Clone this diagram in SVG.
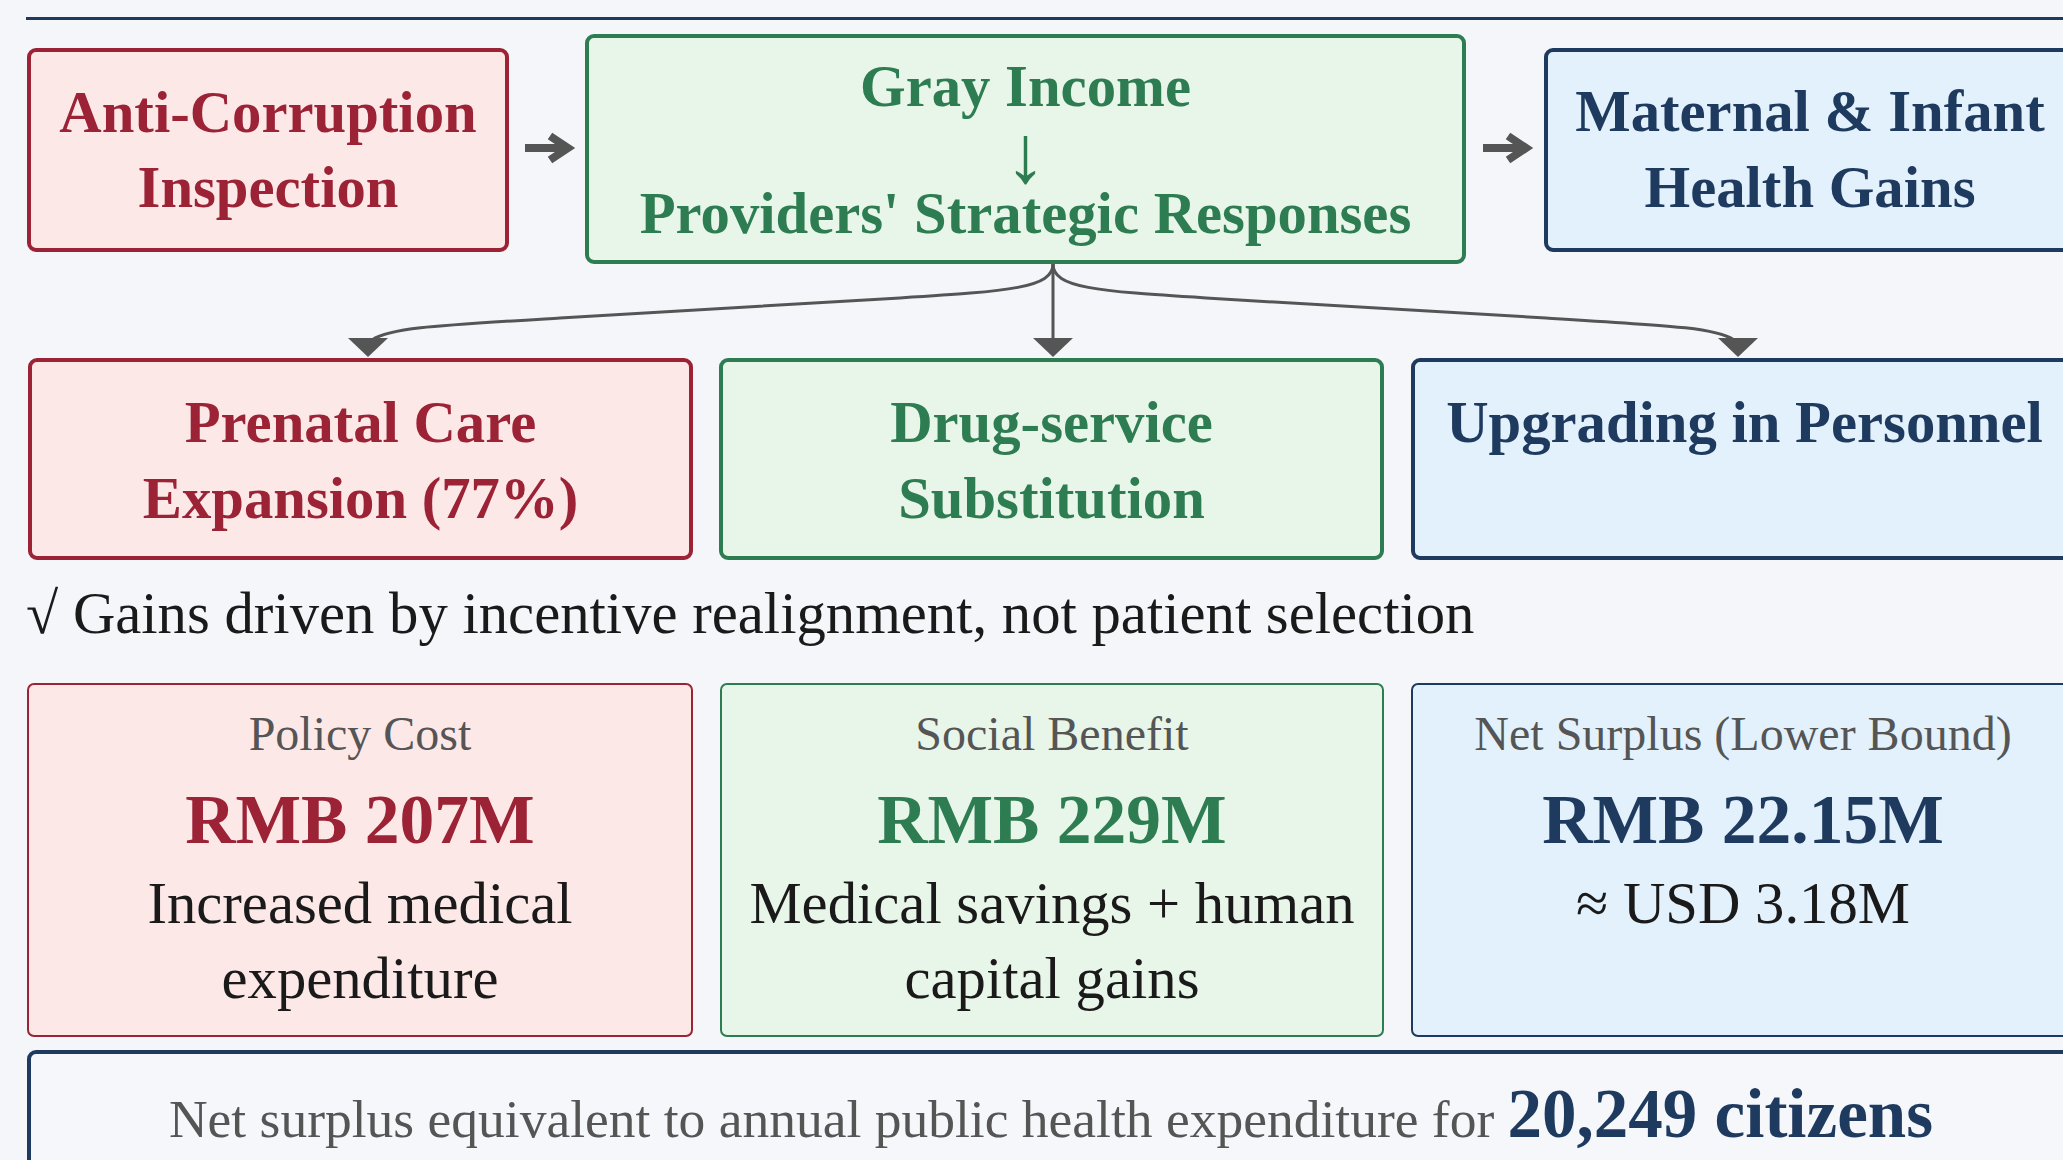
<svg xmlns="http://www.w3.org/2000/svg" width="2063" height="1160" viewBox="0 0 2063 1160">
  <defs>
    <style>
      text { font-family: "Liberation Serif", "Times New Roman", serif; text-anchor: middle; }
      .red-box { fill: #fde8e8; stroke: #9b2335; }
      .green-box { fill: #e8f5e9; stroke: #2e7d52; }
      .navy-box { fill: #e3f1fc; stroke: #1e3a5f; }
      .thick { stroke-width: 4; }
      .thin { stroke-width: 2; }
      .title { font-size: 58.7px; font-weight: bold; }
      .red { fill: #9b2335; }
      .green { fill: #2e7d52; }
      .navy { fill: #1e3a5f; }
      .label { font-size: 48px; fill: #555555; }
      .value { font-size: 69.5px; font-weight: bold; }
      .desc { font-size: 58.7px; fill: #1a1a1a; }
      .link { fill: none; stroke: #555555; stroke-width: 3; }
      .flow { fill: none; stroke: #555555; stroke-width: 8; stroke-linejoin: miter; }
      .head { fill: #555555; }
    </style>
    <polygon id="tip" points="-20,0 20,0 0,19" />
    <g id="flow-arrow">
      <path class="flow" d="M0,0 H42 M25,-12 L43,0 L25,12" />
    </g>
  </defs>

  <rect width="2063" height="1160" fill="#f4f6fa" />

  <!-- header rule -->
  <line x1="26" y1="18.5" x2="2063" y2="18.5" stroke="#1e3a5f" stroke-width="3" />

  <!-- connectors -->
  <g id="connectors">
    <use href="#flow-arrow" x="525" y="148" />
    <use href="#flow-arrow" x="1483" y="148" />
    <path class="link" d="M1053,264 C1053,288 1010,291 900,298 L560,318 C430,326 390,328 372,340" />
    <path class="link" d="M1053,264 V340" />
    <path class="link" d="M1053,264 C1053,288 1096,291 1206,298 L1546,318 C1676,326 1716,328 1734,340" />
    <use href="#tip" class="head" x="368" y="338" />
    <use href="#tip" class="head" x="1053" y="338" />
    <use href="#tip" class="head" x="1738" y="338" />
  </g>

  <!-- top row -->
  <g id="anti-corruption">
    <rect class="red-box thick" x="29" y="50" width="478" height="200" rx="7" />
    <text class="title red" x="268" y="132">Anti-Corruption</text>
    <text class="title red" x="268" y="207">Inspection</text>
  </g>

  <g id="gray-income">
    <rect class="green-box thick" x="587" y="36" width="877" height="226" rx="7" />
    <text class="title green" x="1025.5" y="106">Gray Income</text>
    <text class="green" x="1025.5" y="182" font-size="82">↓</text>
    <text class="title green" x="1025.5" y="233">Providers' Strategic Responses</text>
  </g>

  <g id="health-gains">
    <rect class="navy-box thick" x="1546" y="50" width="528" height="200" rx="7" />
    <text class="title navy" x="1810" y="131">Maternal &amp; Infant</text>
    <text class="title navy" x="1810" y="207">Health Gains</text>
  </g>

  <!-- responses row -->
  <g id="prenatal-care">
    <rect class="red-box thick" x="30" y="360" width="661" height="198" rx="7" />
    <text class="title red" x="360.5" y="442">Prenatal Care</text>
    <text class="title red" x="360.5" y="518">Expansion (77%)</text>
  </g>

  <g id="drug-service">
    <rect class="green-box thick" x="721" y="360" width="661" height="198" rx="7" />
    <text class="title green" x="1051.5" y="442">Drug-service</text>
    <text class="title green" x="1051.5" y="518">Substitution</text>
  </g>

  <g id="personnel">
    <rect class="navy-box thick" x="1413" y="360" width="661" height="198" rx="7" />
    <text class="title navy" x="1744.5" y="442">Upgrading in Personnel</text>
  </g>

  <!-- finding note -->
  <text x="26" y="633" font-size="58.7" fill="#1a1a1a" style="text-anchor: start">√ Gains driven by incentive realignment, not patient selection</text>

  <!-- cost-benefit cards -->
  <g id="policy-cost">
    <rect class="red-box thin" x="28" y="684" width="664" height="352" rx="6" />
    <text class="label" x="360" y="750">Policy Cost</text>
    <text class="value red" x="360" y="843">RMB 207M</text>
    <text class="desc" x="360" y="923">Increased medical</text>
    <text class="desc" x="360" y="998">expenditure</text>
  </g>

  <g id="social-benefit">
    <rect class="green-box thin" x="721" y="684" width="662" height="352" rx="6" />
    <text class="label" x="1052" y="750">Social Benefit</text>
    <text class="value green" x="1052" y="843">RMB 229M</text>
    <text class="desc" x="1052" y="923">Medical savings + human</text>
    <text class="desc" x="1052" y="998">capital gains</text>
  </g>

  <g id="net-surplus">
    <rect class="navy-box thin" x="1412" y="684" width="662" height="352" rx="6" />
    <text class="label" x="1743" y="750">Net Surplus (Lower Bound)</text>
    <text class="value navy" x="1743" y="843">RMB 22.15M</text>
    <text class="desc" x="1743" y="923">≈ USD 3.18M</text>
  </g>

  <!-- equivalence banner -->
  <g id="equivalence">
    <rect x="29" y="1052" width="2044" height="150" rx="7" fill="#f5f7fb" stroke="#1e3a5f" stroke-width="4" />
    <text x="1051" y="1137"><tspan font-size="53.5" fill="#555555">Net surplus equivalent to annual public health expenditure for </tspan><tspan font-size="69" font-weight="bold" fill="#1e3a5f">20,249 citizens</tspan></text>
  </g>
</svg>
